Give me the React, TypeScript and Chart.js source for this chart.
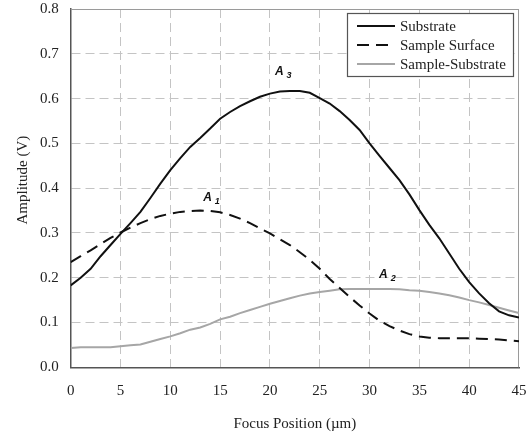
import React, { useEffect, useRef } from 'react';
import { Chart, registerables } from 'chart.js';

Chart.register(...registerables);

const focusPositions = [
  0, 1, 2, 3, 4, 5, 6, 7, 8, 9, 10, 11, 12, 13, 14, 15, 16, 17, 18, 19, 20, 21, 22,
  23, 24, 25, 26, 27, 28, 29, 30, 31, 32, 33, 34, 35, 36, 37, 38, 39, 40, 41, 42, 43, 44, 45,
];

const substrate = [
  0.183, 0.2, 0.22, 0.248, 0.273, 0.298, 0.322, 0.347, 0.378, 0.41, 0.44, 0.467, 0.492,
  0.512, 0.533, 0.555, 0.57, 0.583, 0.594, 0.604, 0.611, 0.616, 0.617, 0.617, 0.613, 0.601,
  0.589, 0.572, 0.552, 0.53, 0.5, 0.472, 0.445, 0.418, 0.386, 0.351, 0.318, 0.288, 0.254,
  0.22, 0.19, 0.165, 0.143, 0.125, 0.116, 0.111,
];

const sampleSurface = [
  0.235, 0.248, 0.261, 0.275, 0.289, 0.301, 0.312, 0.322, 0.331, 0.338, 0.343, 0.347, 0.349,
  0.35, 0.349, 0.346, 0.34, 0.332, 0.322, 0.31, 0.299, 0.286, 0.273, 0.257, 0.24, 0.22, 0.197,
  0.177, 0.157, 0.138, 0.12, 0.104, 0.092, 0.082, 0.074, 0.069, 0.066, 0.065, 0.065, 0.065,
  0.065, 0.064, 0.063, 0.062, 0.06, 0.058,
];

const sampleMinusSubstrate = [
  0.043, 0.045, 0.045, 0.045, 0.045, 0.047, 0.049, 0.051, 0.057, 0.063, 0.069, 0.076, 0.084,
  0.089, 0.097, 0.107, 0.113, 0.121, 0.128, 0.135, 0.142, 0.148, 0.154, 0.16, 0.165, 0.168,
  0.171, 0.174, 0.175, 0.175, 0.175, 0.175, 0.175, 0.174, 0.172, 0.171, 0.168, 0.165, 0.161,
  0.156, 0.15, 0.145, 0.139, 0.133, 0.127, 0.121,
];

const seriesLabels = ['Substrate', 'Sample Surface', 'Sample-Substrate'];

// Peak annotations (A1, A2, A3) placed in data coordinates
const peakSubscripts = ['1', '2', '3'];
const peakX = [13.3, 30.95, 20.5];
const peakY = [0.372, 0.199, 0.653];

const SERIF = "'Liberation Serif', 'Times New Roman', Times, serif";
const SANS = "'Liberation Sans', Arial, Helvetica, sans-serif";

const toPoints = (ys: number[]) => focusPositions.map((x, i) => ({ x, y: ys[i] }));

const decorPlugin = {
  id: 'decor',
  beforeDatasetsDraw(chart: any) {
    const { ctx, chartArea } = chart;
    ctx.save();
    ctx.strokeStyle = '#9a9a9a';
    ctx.lineWidth = 1;
    ctx.setLineDash([]);
    ctx.beginPath();
    ctx.moveTo(chartArea.left, chartArea.top + 0.5);
    ctx.lineTo(chartArea.right, chartArea.top + 0.5);
    ctx.moveTo(chartArea.right - 0.5, chartArea.top);
    ctx.lineTo(chartArea.right - 0.5, chartArea.bottom);
    ctx.stroke();
    ctx.restore();
  },
  afterDatasetsDraw(chart: any) {
    const { ctx, chartArea, scales } = chart;
    const xs = scales.x;
    const ys = scales.y;

    // Peak annotations
    ctx.save();
    ctx.fillStyle = '#111';
    ctx.textBaseline = 'alphabetic';
    ctx.textAlign = 'left';
    peakSubscripts.forEach((sub, i) => {
      const px = xs.getPixelForValue(peakX[i]);
      const py = ys.getPixelForValue(peakY[i]);
      ctx.font = `italic bold 12px ${SANS}`;
      ctx.fillText('A', px, py);
      const w = ctx.measureText('A').width;
      ctx.font = `italic bold 9px ${SANS}`;
      ctx.fillText(sub, px + w + 3, py + 3);
    });
    ctx.restore();

    // Legend box
    const datasets = chart.data.datasets;
    const boxW = 167;
    const boxH = 64;
    const boxX = chartArea.right - 5 - boxW;
    const boxY = chartArea.top + 4;
    ctx.save();
    ctx.fillStyle = '#ffffff';
    ctx.fillRect(boxX, boxY, boxW, boxH);
    ctx.strokeStyle = '#555';
    ctx.lineWidth = 1.2;
    ctx.setLineDash([]);
    ctx.strokeRect(boxX + 0.5, boxY + 0.5, boxW - 1, boxH - 1);
    ctx.font = `15px ${SERIF}`;
    ctx.textBaseline = 'middle';
    ctx.textAlign = 'left';
    datasets.forEach((ds: any, i: number) => {
      const ly = boxY + 13 + i * 19;
      ctx.beginPath();
      ctx.strokeStyle = ds.borderColor;
      ctx.lineWidth = ds.borderWidth;
      ctx.setLineDash(ds.borderDash || []);
      ctx.moveTo(boxX + 10, ly);
      ctx.lineTo(boxX + 48, ly);
      ctx.stroke();
      ctx.setLineDash([]);
      ctx.fillStyle = '#222';
      ctx.fillText(ds.label, boxX + 53, ly + 1);
    });
    ctx.restore();

    // Y axis title
    ctx.save();
    ctx.fillStyle = '#222';
    ctx.font = `15px ${SERIF}`;
    ctx.textAlign = 'center';
    ctx.textBaseline = 'middle';
    ctx.translate(23, (chartArea.top + chartArea.bottom) / 2 - 8);
    ctx.rotate(-Math.PI / 2);
    ctx.fillText('Amplitude (V)', 0, 0);
    ctx.restore();
  },
};

export default function App() {
  const canvasRef = useRef<HTMLCanvasElement | null>(null);

  useEffect(() => {
    if (!canvasRef.current) return;
    const chart = new Chart(canvasRef.current, {
      type: 'line',
      data: {
        datasets: [
          {
            label: seriesLabels[0],
            data: toPoints(substrate),
            borderColor: '#111111',
            borderWidth: 2,
            pointRadius: 0,
            tension: 0,
            fill: false,
          },
          {
            label: seriesLabels[1],
            data: toPoints(sampleSurface),
            borderColor: '#111111',
            borderWidth: 2,
            borderDash: [12, 7],
            pointRadius: 0,
            tension: 0,
            fill: false,
          },
          {
            label: seriesLabels[2],
            data: toPoints(sampleMinusSubstrate),
            borderColor: '#a6a6a6',
            borderWidth: 2,
            pointRadius: 0,
            tension: 0,
            fill: false,
          },
        ],
      },
      options: {
        animation: false,
        responsive: true,
        maintainAspectRatio: false,
        layout: { padding: { top: 9, right: 13, left: 0, bottom: 0 } },
        plugins: {
          legend: { display: false },
          tooltip: { enabled: false },
        },
        scales: {
          x: {
            type: 'linear',
            min: 0,
            max: 45,
            ticks: {
              stepSize: 5,
              padding: 15,
              color: '#222',
              font: { family: SERIF, size: 15 },
            },
            grid: {
              drawTicks: false,
              color: (c: any) => (c.tick && c.tick.value === 45 ? 'rgba(0,0,0,0)' : '#c4c4c4'),
              lineWidth: 1,
            },
            border: { display: true, color: '#555', width: 1.5, dash: [9, 5] },
            title: {
              display: true,
              text: 'Focus Position (µm)',
              color: '#222',
              font: { family: SERIF, size: 15 },
              padding: { top: 0, bottom: 1 },
            },
            afterFit: (scale: any) => {
              scale.height = 66.7;
              scale.paddingLeft = 0;
              scale.paddingRight = 0;
            },
          },
          y: {
            type: 'linear',
            min: 0,
            max: 0.8,
            ticks: {
              stepSize: 0.1,
              padding: 12,
              color: '#222',
              font: { family: SERIF, size: 15 },
              callback: (v: any) => Number(v).toFixed(1),
            },
            grid: {
              drawTicks: false,
              color: (c: any) => (c.tick && Math.abs(c.tick.value - 0.8) < 1e-9 ? 'rgba(0,0,0,0)' : '#c4c4c4'),
              lineWidth: 1,
            },
            border: { display: true, color: '#555', width: 1.5, dash: [9, 5] },
            afterFit: (scale: any) => {
              scale.width = 70.7;
              scale.paddingTop = 0;
              scale.paddingBottom = 0;
            },
          },
        },
      },
      plugins: [decorPlugin],
    } as any);
    return () => chart.destroy();
  }, []);

  return (
    <div style={{ position: 'fixed', left: 0, top: 0, width: 532, height: 434, background: '#fff' }}>
      <canvas ref={canvasRef} />
    </div>
  );
}
